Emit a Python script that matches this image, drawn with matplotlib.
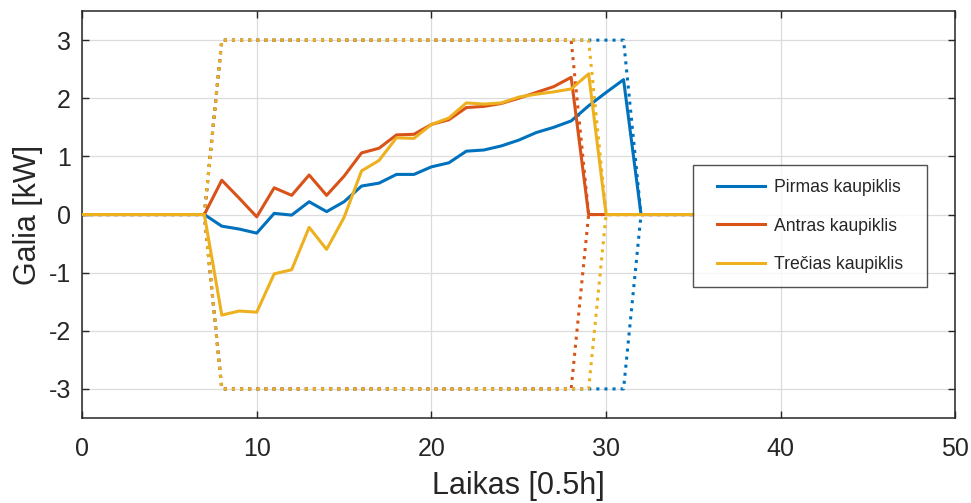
import numpy as np
import matplotlib.pyplot as plt

plt.rcParams['font.family'] = ['Liberation Sans', 'DejaVu Sans']
plt.rcParams['axes.unicode_minus'] = False

# time steps (0.5 h each)
t = np.arange(0, 36)

# charging power of each storage unit [kW]
pirmas = [0, 0, 0, 0, 0, 0, 0, 0,
          -0.20, -0.25, -0.32, 0.02, -0.01, 0.22, 0.05, 0.22,
          0.49, 0.54, 0.69, 0.69, 0.82, 0.89, 1.09, 1.11, 1.18, 1.28,
          1.41, 1.50, 1.61, 1.87, 2.10, 2.32,
          0, 0, 0, 0]
antras = [0, 0, 0, 0, 0, 0, 0, 0,
          0.59, 0.28, -0.04, 0.46, 0.33, 0.68, 0.33, 0.66,
          1.06, 1.14, 1.37, 1.38, 1.55, 1.63, 1.84, 1.86, 1.91, 2.00,
          2.10, 2.20, 2.36,
          0, 0, 0, 0, 0, 0, 0]
trecias = [0, 0, 0, 0, 0, 0, 0, 0,
           -1.73, -1.66, -1.68, -1.02, -0.95, -0.22, -0.60, -0.05,
           0.75, 0.93, 1.32, 1.31, 1.55, 1.66, 1.92, 1.90, 1.92, 2.02,
           2.07, 2.11, 2.16, 2.42,
           0, 0, 0, 0, 0, 0]

# power limits: +-3 kW while the unit is available
p_max = 3
available = {'pirmas': (8, 31), 'antras': (8, 28), 'trecias': (8, 29)}

colors = ['#0072BD', '#D95319', '#EDB120']
labels = ['Pirmas kaupiklis', 'Antras kaupiklis', 'Trečias kaupiklis']

fig = plt.figure(figsize=(9.71, 5.03), dpi=100)
ax = fig.add_axes([0.0845, 0.169, 0.8995, 0.809])

# limit curves (dotted)
for (start, end), c in zip(available.values(), colors):
    upper = np.where((t >= start) & (t <= end), p_max, 0)
    ax.plot(t, upper, ':', color=c, lw=2.2, zorder=2)
    ax.plot(t, -upper, ':', color=c, lw=2.2, zorder=2)

# actual power
for y, c, lab in zip([pirmas, antras, trecias], colors, labels):
    ax.plot(t, y, '-', color=c, lw=2.2, label=lab, zorder=3)

ax.set_xlim(0, 50)
ax.set_ylim(-3.5, 3.5)
ax.set_xticks(np.arange(0, 51, 10))
ax.set_yticks(np.arange(-3, 4, 1))

ax.grid(True, color='#dcdcdc', lw=0.9)
ax.set_axisbelow(True)
ax.tick_params(direction='in', top=True, right=True, labelsize=18,
               colors='#262626', length=5, width=1)
ax.tick_params(axis='x', pad=14)
ax.tick_params(axis='y', pad=8)
for s in ax.spines.values():
    s.set_color('#262626')
    s.set_linewidth(1.1)

ax.set_xlabel('Laikas [0.5h]', fontsize=22, color='#262626', labelpad=7)
ax.set_ylabel('Galia [kW]', fontsize=22, color='#262626', labelpad=4)

leg = ax.legend(loc='center left', bbox_to_anchor=(0.701, 0.4715),
                fontsize=12.7, frameon=True, fancybox=False,
                handlelength=2.7, handletextpad=0.5, labelspacing=1.2,
                borderpad=0.8)
# wider side margins in the legend box than top/bottom
frame = leg.get_frame()
frame.set_boxstyle('square', pad=0.55)
frame.set_mutation_aspect(0.001)
frame.set_edgecolor('#262626')
frame.set_linewidth(1.0)
for txt in leg.get_texts():
    txt.set_color('#262626')

fig.savefig('out.png', dpi=100)
